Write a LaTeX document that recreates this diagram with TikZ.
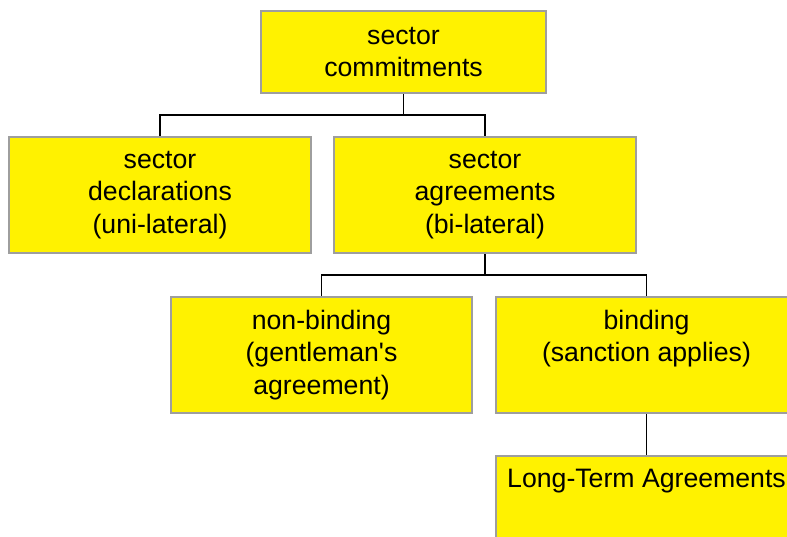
\documentclass[tikz,border=0pt]{standalone}
\usepackage{fontspec}
\setmainfont{Liberation Sans}
\tikzset{
  unit/.style={draw=black!38, fill=yellow, line width=1pt, anchor=north, align=center,
    inner sep=0pt, minimum width=151pt, minimum height=58pt,
    font=\fontsize{13.33}{16.25}\selectfont},
  tree/.style={draw=black, line width=0.9pt}
}
\begin{document}
\begin{tikzpicture}[x=0.5pt, y=-0.5pt]
    \useasboundingbox (0,0) rectangle (787,536);
    \clip (0,0) rectangle (787,536);
    % boxes
    \node[unit, minimum width=142.5pt, minimum height=41pt] (commit) at (403.5,10) {sector\\commitments};
    \node[unit] (decl) at (160,136) {sector\\declarations\\(uni-lateral)};
    \node[unit] (agree) at (485,136) {sector\\agreements\\(bi-lateral)};
    \node[unit, minimum width=150.5pt] (nonbind) at (321.5,296) {non-binding\\(gentleman{\textquotesingle}s\\agreement)};
    \node[unit, minimum width=150.5pt] (bind) at (646.5,296) {binding\\(sanction applies)\\\vphantom{()}};
    \node[unit, minimum width=150.5pt, minimum height=41pt] (lta) at (646.5,455) {Long-Term Agreements\\\vphantom{()}};
    % connectors
    \draw[tree] (commit.south) -- ++(0,21) -| (decl.north);
    \draw[tree] (commit.south) -- ++(0,21) -| (agree.north);
    \draw[tree] (agree.south) -- ++(0,21) -| (nonbind.north);
    \draw[tree] (agree.south) -- ++(0,21) -| (bind.north);
    \draw[tree] (bind.south) -- (lta.north);
\end{tikzpicture}
\end{document}
